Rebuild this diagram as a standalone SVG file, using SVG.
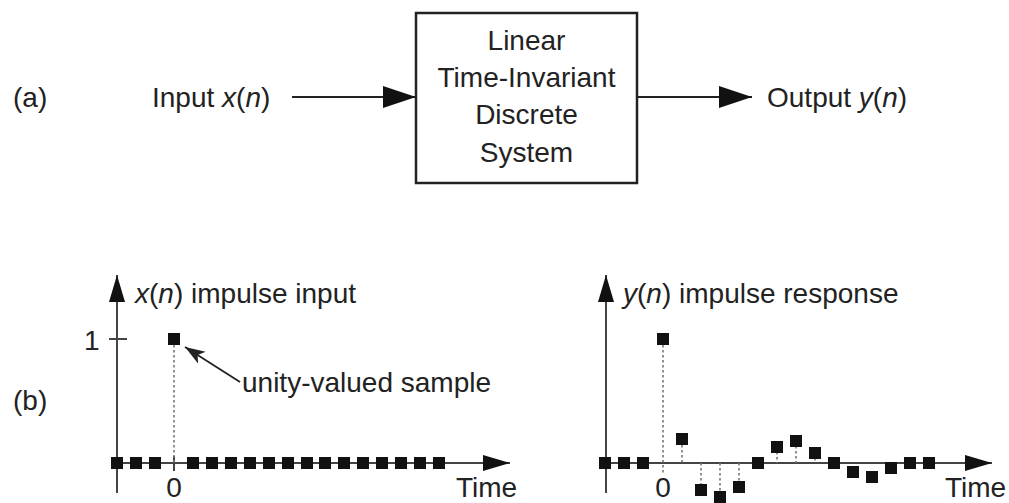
<svg xmlns="http://www.w3.org/2000/svg" width="1009" height="503" viewBox="0 0 1009 503">
<style>
text{font-family:"Liberation Sans",Arial,sans-serif;font-size:28px;fill:#222}
.i{font-style:italic}
.ax{stroke:#444;stroke-width:2;fill:none}
.st{stroke:#777;stroke-width:1.6;stroke-dasharray:2.5,2.5;fill:none}
.sq{fill:#111}
.ln{stroke:#222;stroke-width:2;fill:none}
</style>
<defs>
<marker id="big" markerWidth="34" markerHeight="24" refX="33" refY="11" orient="auto" markerUnits="userSpaceOnUse">
<path d="M0,0 L33,11 L0,22 Z" fill="#111"/>
</marker>
<marker id="axa" markerWidth="28" markerHeight="18" refX="27" refY="8" orient="auto" markerUnits="userSpaceOnUse">
<path d="M0,0 L27,8 L0,16 Z" fill="#111"/>
</marker>
<marker id="ann" markerWidth="22" markerHeight="16" refX="20" refY="7" orient="auto" markerUnits="userSpaceOnUse">
<path d="M0,0 L20,7 L0,14 L5,7 Z" fill="#222"/>
</marker>
<rect id="s" x="-6" y="-6" width="12" height="12" class="sq"/>
</defs>

<text x="13" y="107">(a)</text>
<text x="13" y="410">(b)</text>

<g id="connectors">
<line x1="292" y1="97" x2="416" y2="97" class="ln" marker-end="url(#big)"/>
<line x1="637" y1="97" x2="752" y2="97" class="ln" marker-end="url(#big)"/>
</g>

<g id="input">
<text x="152" y="107">Input <tspan class="i">x</tspan>(<tspan class="i">n</tspan>)</text>
</g>

<g id="lti">
<rect x="416" y="13" width="221" height="170" fill="#fff" stroke="#222" stroke-width="2.5"/>
<text x="526.5" y="50" text-anchor="middle">Linear</text>
<text x="526.5" y="87" text-anchor="middle">Time-Invariant</text>
<text x="526.5" y="124" text-anchor="middle">Discrete</text>
<text x="526.5" y="162" text-anchor="middle">System</text>
</g>

<g id="output">
<text x="767" y="107">Output <tspan class="i">y</tspan>(<tspan class="i">n</tspan>)</text>
</g>

<g id="plot-x">
<line x1="117" y1="493" x2="117" y2="275" class="ax" marker-end="url(#axa)"/>
<line x1="117" y1="463" x2="510" y2="463" class="ax" marker-end="url(#axa)"/>
<line x1="109" y1="339" x2="127" y2="339" class="ax"/>
<line x1="174" y1="456" x2="174" y2="471" class="ax"/>
<line x1="174" y1="345" x2="174" y2="463" class="st"/>
<text x="84" y="350">1</text>
<text x="174" y="497" text-anchor="middle">0</text>
<text x="456" y="497">Time</text>
<text x="135" y="303"><tspan class="i">x</tspan>(<tspan class="i">n</tspan>) impulse input</text>
<use href="#s" x="174" y="339"/>
<use href="#s" x="117" y="463"/><use href="#s" x="136" y="463"/><use href="#s" x="155" y="463"/>
<use href="#s" x="193" y="463"/><use href="#s" x="212" y="463"/><use href="#s" x="231" y="463"/><use href="#s" x="250" y="463"/>
<use href="#s" x="269" y="463"/><use href="#s" x="288" y="463"/><use href="#s" x="307" y="463"/><use href="#s" x="325" y="463"/>
<use href="#s" x="344" y="463"/><use href="#s" x="363" y="463"/><use href="#s" x="382" y="463"/><use href="#s" x="401" y="463"/>
<use href="#s" x="420" y="463"/><use href="#s" x="439" y="463"/>
<line x1="240" y1="382" x2="185" y2="347" stroke="#222" stroke-width="1.8" marker-end="url(#ann)"/>
<text x="242" y="392">unity-valued sample</text>
</g>

<g id="plot-y">
<line x1="606" y1="493" x2="606" y2="275" class="ax" marker-end="url(#axa)"/>
<line x1="605" y1="463" x2="992" y2="463" class="ax" marker-end="url(#axa)"/>
<line x1="663" y1="345" x2="663" y2="473" class="st"/>
<line x1="682" y1="445" x2="682" y2="463" class="st"/>
<line x1="701" y1="463" x2="701" y2="485" class="st"/>
<line x1="720" y1="463" x2="720" y2="494" class="st"/>
<line x1="739" y1="463" x2="739" y2="482" class="st"/>
<line x1="777" y1="452" x2="777" y2="463" class="st"/>
<line x1="796" y1="446" x2="796" y2="463" class="st"/>
<line x1="815" y1="458" x2="815" y2="463" class="st"/>
<text x="663" y="497" text-anchor="middle">0</text>
<text x="945" y="497">Time</text>
<text x="623" y="303"><tspan class="i">y</tspan>(<tspan class="i">n</tspan>) impulse response</text>
<use href="#s" x="605" y="463"/><use href="#s" x="624" y="463"/><use href="#s" x="643" y="463"/>
<use href="#s" x="663" y="339"/>
<use href="#s" x="682" y="439"/>
<use href="#s" x="701" y="490"/>
<use href="#s" x="720" y="497"/>
<use href="#s" x="739" y="487"/>
<use href="#s" x="758" y="463"/>
<use href="#s" x="777" y="447"/>
<use href="#s" x="796" y="441"/>
<use href="#s" x="815" y="453"/>
<use href="#s" x="834" y="463"/>
<use href="#s" x="853" y="472"/>
<use href="#s" x="872" y="477"/>
<use href="#s" x="891" y="468"/>
<use href="#s" x="910" y="463"/>
<use href="#s" x="929" y="463"/>
</g>
</svg>
